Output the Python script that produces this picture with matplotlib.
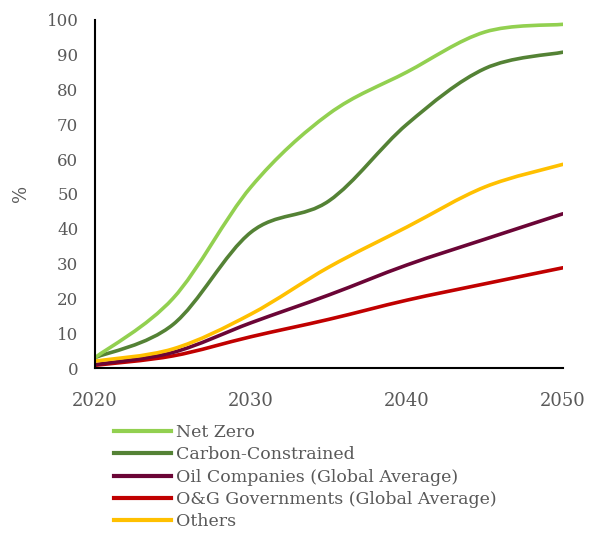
import matplotlib
matplotlib.use("Agg")
import matplotlib.pyplot as plt
from matplotlib.path import Path
from matplotlib.patches import PathPatch
from matplotlib.lines import Line2D
import numpy as np

plt.rcParams['font.family'] = ['DejaVu Serif']

years = [2020, 2025, 2030, 2035, 2040, 2045, 2050]
net_zero = [3, 20, 52, 73, 85, 96.5, 98.7]
carbon_constrained = [3, 12.5, 39, 48, 70, 86, 90.7]
oil_companies = [1, 4.5, 13, 21, 29.6, 37, 44.3]
og_governments = [0.8, 3.5, 9, 14, 19.5, 24.2, 28.8]
others = [2, 5.5, 15.5, 29, 40.5, 52, 58.5]

series = [
    ("Net Zero", net_zero, "#92D050"),
    ("Carbon-Constrained", carbon_constrained, "#548235"),
    ("Oil Companies (Global Average)", oil_companies, "#6B0536"),
    ("O&G Governments (Global Average)", og_governments, "#C00000"),
    ("Others", others, "#FFC000"),
]
x_ticks = [2020, 2030, 2040, 2050]
y_ticks = list(range(0, 101, 10))


def smooth_path(xs, ys):
    """Cubic Bezier path through the points (Catmull-Rom style smoothing)."""
    pts = np.column_stack([xs, ys]).astype(float)
    n = len(pts)
    verts = [pts[0]]
    codes = [Path.MOVETO]
    for i in range(n - 1):
        p0 = pts[i - 1] if i > 0 else pts[i]
        p1 = pts[i]
        p2 = pts[i + 1]
        p3 = pts[i + 2] if i + 2 < n else pts[i + 1]
        c1 = p1 + (p2 - p0) / 6.0
        c2 = p2 - (p3 - p1) / 6.0
        verts += [c1, c2, p2]
        codes += [Path.CURVE4] * 3
    return Path(verts, codes)


fig = plt.figure(figsize=(5.9, 5.35), dpi=100)
ax = fig.add_axes([0.161, 0.312, 0.793, 0.651])

# draw order: red and purple under yellow, greens on top
order = [3, 2, 4, 1, 0]
for idx in order:
    name, vals, col = series[idx]
    patch = PathPatch(smooth_path(years, vals), facecolor="none",
                      edgecolor=col, lw=2.6, capstyle="round", joinstyle="round")
    ax.add_patch(patch)

ax.set_xlim(2020, 2050)
ax.set_ylim(0, 100)
ax.set_xticks(x_ticks)
ax.set_yticks(y_ticks)
ax.tick_params(length=0, colors="#595959", labelsize=12)
ax.tick_params(axis="x", pad=17, labelsize=13)
ax.tick_params(axis="y", pad=12)
for s in ("top", "right"):
    ax.spines[s].set_visible(False)
for s in ("left", "bottom"):
    ax.spines[s].set_color("black")
    ax.spines[s].set_linewidth(1.5)
ax.set_ylabel("%", color="#595959", fontsize=13, labelpad=12)

handles = [Line2D([], [], color=c, lw=3) for _, _, c in series]
labels = [n for n, _, _ in series]
fig.legend(handles, labels, loc="upper left", bbox_to_anchor=(0.193, 0.207),
           frameon=False, fontsize=12.5, labelcolor="#595959",
           handlelength=3.3, handletextpad=0.3, labelspacing=0.3,
           borderpad=0, borderaxespad=0)

fig.savefig("out.png", dpi=100, facecolor="white")
